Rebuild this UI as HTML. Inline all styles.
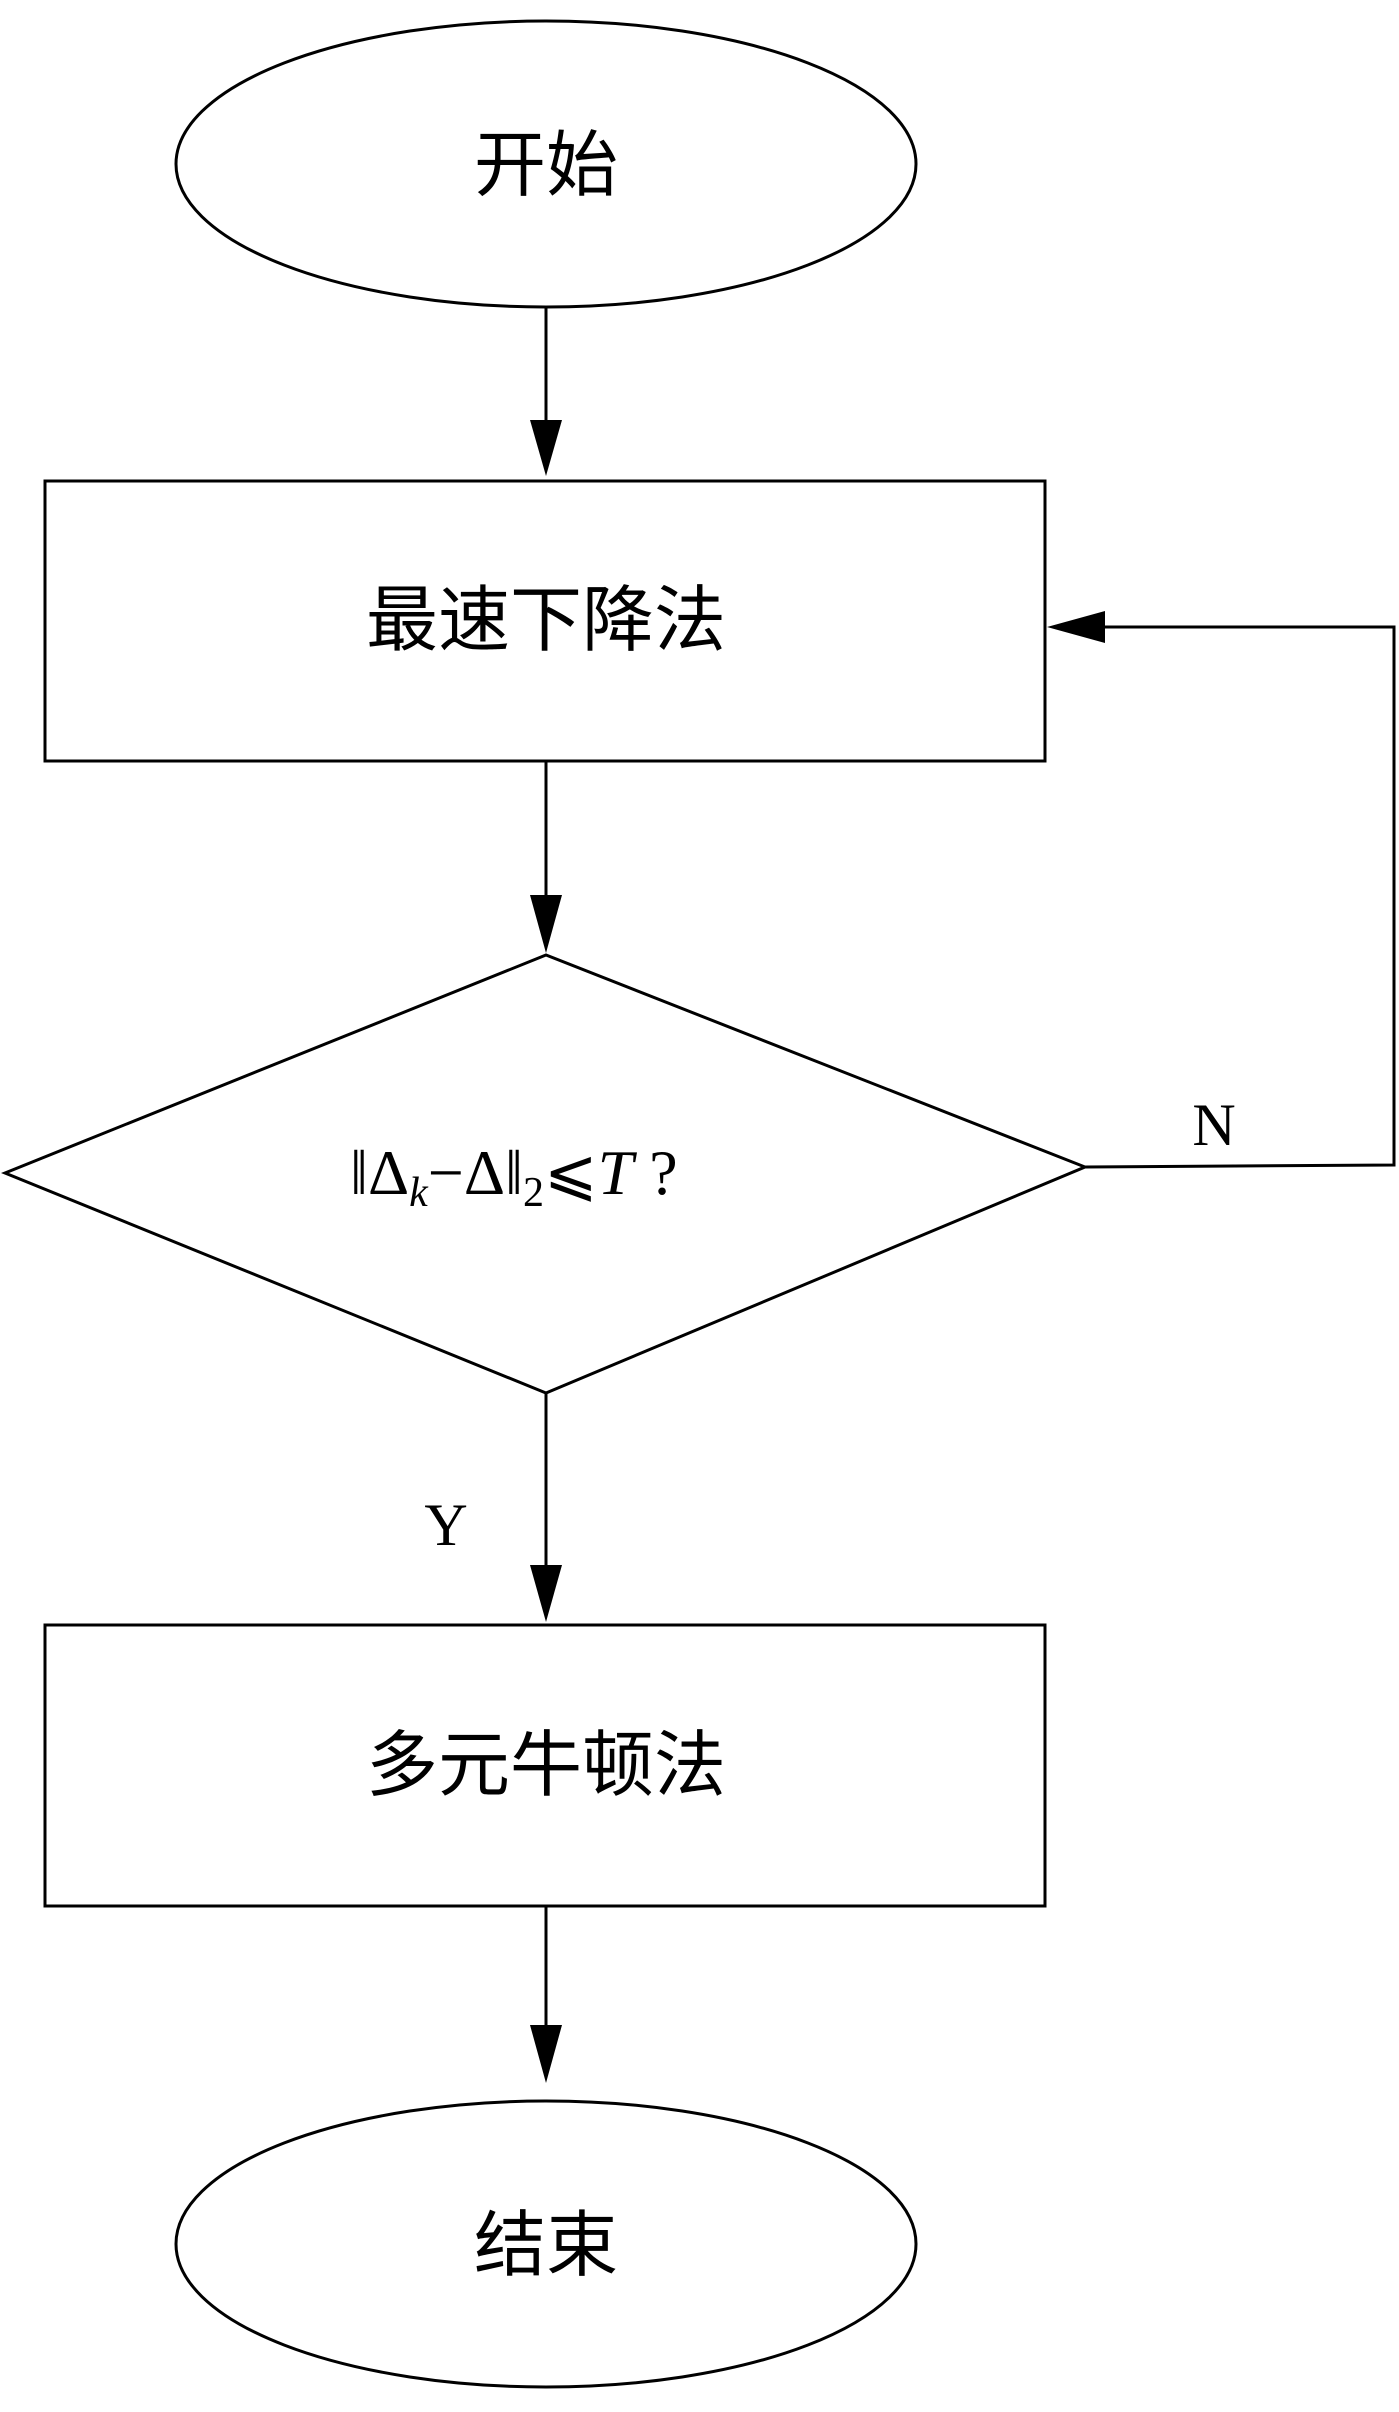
<!DOCTYPE html>
<html><head><meta charset="utf-8"><style>
html,body{margin:0;padding:0;background:#fff;}
svg{display:block;}
text{font-family:"Liberation Serif","Noto Serif CJK SC",serif;fill:#000;}
.cn{font-family:"Liberation Sans","Noto Sans CJK SC",sans-serif;}
</style></head><body>
<svg width="1399" height="2412" viewBox="0 0 1399 2412" xmlns="http://www.w3.org/2000/svg">
<g stroke="#000" stroke-width="3" fill="none">
<ellipse cx="546" cy="164" rx="370" ry="143"/>
<rect x="45" y="481" width="1000" height="280"/>
<polygon points="5,1173 546,955 1085,1167 546,1393"/>
<rect x="45" y="1625" width="1000" height="281"/>
<ellipse cx="546" cy="2244" rx="370" ry="143"/>
<line x1="546" y1="307" x2="546" y2="420"/>
<line x1="546" y1="761" x2="546" y2="895"/>
<line x1="546" y1="1393" x2="546" y2="1565"/>
<line x1="546" y1="1906" x2="546" y2="2025"/>
<polyline points="1085,1167 1394,1165 1394,627 1105,627"/>
</g>
<g fill="#000">
<polygon points="530,420 562,420 546,476"/>
<polygon points="530,895 562,895 546,953"/>
<polygon points="530,1565 562,1565 546,1622"/>
<polygon points="530,2025 562,2025 546,2083"/>
<polygon points="1105,611 1105,643 1047,627"/>
</g>
<g font-size="72" text-anchor="middle" class="cn">
<text class="cn" x="546" y="190">开始</text>
<text class="cn" x="546" y="645">最速下降法</text>
<text class="cn" x="546" y="1790">多元牛顿法</text>
<text class="cn" x="546" y="2270">结束</text>
</g>
<text x="1214" y="1145" font-size="60" text-anchor="middle">N</text>
<text x="446" y="1545" font-size="60" text-anchor="middle">Y</text>
<text x="350" y="1194" font-size="64">‖Δ<tspan font-size="42" font-style="italic" dy="12">k</tspan><tspan dy="-12">−Δ‖</tspan><tspan font-size="42" dy="12">2</tspan><tspan dy="-12">⩽</tspan><tspan font-style="italic">T</tspan> ?</text>
</svg>
</body></html>
